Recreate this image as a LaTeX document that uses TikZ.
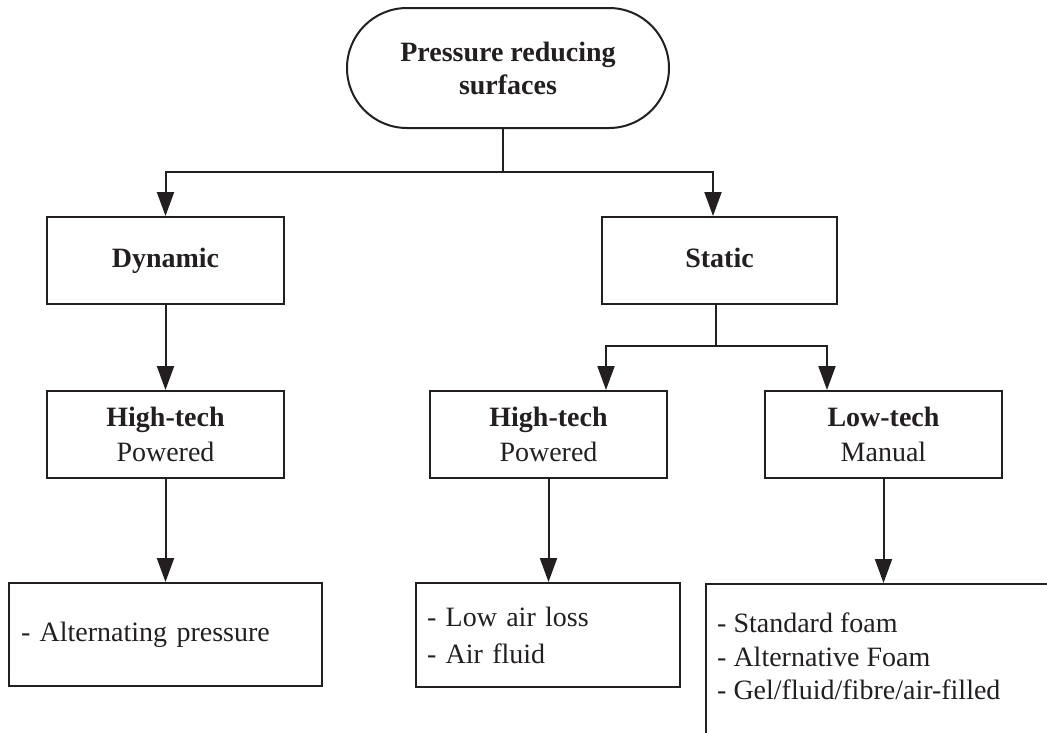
\documentclass[tikz,border=0pt]{standalone}
\usepackage{fontspec}
\setmainfont{Liberation Serif}
\usetikzlibrary{arrows.meta}
\definecolor{ink}{HTML}{231F20}
\begin{document}
\begin{tikzpicture}[x=1pt,y=-1pt,
  every node/.style={font=\fontsize{28}{35}\selectfont, text=ink},
  box/.style={draw=ink, line width=2pt, minimum width=237pt, minimum height=87pt, align=center, inner sep=0pt},
  onebox/.style={box, text height=19pt, text depth=6pt, font=\fontsize{28}{35}\selectfont\bfseries},
  listbox/.style={draw=ink, line width=2pt, align=left, inner ysep=0pt},
  arr/.style={draw=ink, line width=2pt, -{Triangle[length=24pt,width=17pt]}},
  ln/.style={draw=ink, line width=2pt}]
\path[use as bounding box] (0,0) rectangle (1047,732);
\clip (0,0) rectangle (1047,732);
% top
\node[draw=ink, line width=2pt, rounded corners=60pt, minimum width=322pt, minimum height=120pt, align=center, inner sep=0pt, font=\fontsize{28}{33}\selectfont\bfseries] (top) at (508,68) {Pressure reducing\\surfaces};
% level 1
\node[onebox] (dyn) at (165.5,260.5) {Dynamic};
\node[onebox, minimum width=235pt] (stat) at (719.5,260.5) {Static};
% level 2
\node[box] (ht1) at (165.5,434.5) {\textbf{High-tech}\\Powered};
\node[box] (ht2) at (548.5,434.5) {\textbf{High-tech}\\Powered};
\node[box] (lt) at (883.5,434.5) {\textbf{Low-tech}\\Manual};
% level 3
\node[listbox, text width=289pt, inner xsep=12pt, minimum height=103pt] (b1) at (165.5,634.5) {- Alternating pressure};
\node[listbox, text width=242pt, inner xsep=11pt, minimum height=104pt, font=\fontsize{28}{37}\selectfont] (b2) at (548,635) {- Low air loss\\- Air fluid};
\node[draw=ink, line width=2pt, anchor=north west, minimum width=400pt, minimum height=200pt, inner sep=0pt] (b3) at (705,583) {};
\node[anchor=west, align=left, inner sep=0pt, font=\fontsize{28}{33.5}\selectfont] (b3t) at (717,656.5) {- Standard foam\\- Alternative Foam\\- Gel/fluid/fibre/air-filled};
% connectors
\coordinate (s1) at (503,172);
\draw[ln] (s1 |- top.south) -- (s1);
\draw[arr] (s1) -| (dyn.north);
\draw[arr] (s1) -| ([xshift=-6.5pt]stat.north);
\draw[arr] (dyn.south) -- (ht1.north);
\coordinate (s2) at (716,346);
\draw[ln] ([xshift=-3.5pt]stat.south) -- (s2);
\draw[arr] (s2) -| ([xshift=57.5pt]ht2.north);
\draw[arr] (s2) -| ([xshift=-56.5pt]lt.north);
\draw[arr] (ht1.south) -- (b1.north);
\draw[arr] (ht2.south) -- (ht2.south |- b2.north);
\draw[arr] (lt.south) -- (lt.south |- b3.north);
\end{tikzpicture}
\end{document}
